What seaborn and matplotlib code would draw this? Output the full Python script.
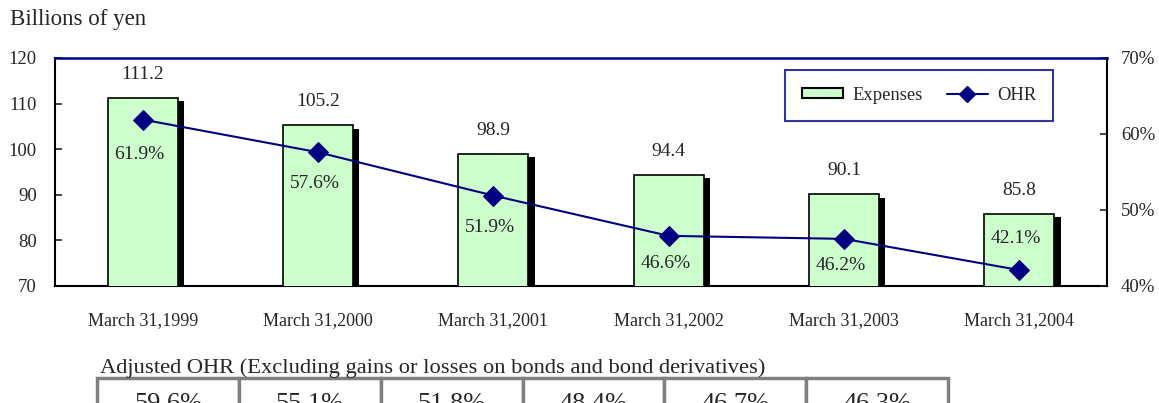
import matplotlib
matplotlib.use("Agg")
import matplotlib.pyplot as plt
import matplotlib.transforms as mtransforms
import numpy as np
import pandas as pd
import seaborn as sns
from matplotlib.lines import Line2D
from matplotlib.patches import Patch
from matplotlib.ticker import FixedLocator, FuncFormatter

# data
dates = ["March 31,1999", "March 31,2000", "March 31,2001",
         "March 31,2002", "March 31,2003", "March 31,2004"]
expenses = [111.2, 105.2, 98.9, 94.4, 90.1, 85.8]
ohr = [61.9, 57.6, 51.9, 46.6, 46.2, 42.1]
adjusted_ohr = [59.6, 55.1, 51.8, 48.4, 46.7, 46.3]

# label offsets (points) for the OHR labels, positive = up
ohr_label_dy = [-25, -22.5, -23, -20, -19, 23]

GREEN = "#CCFFCC"
NAVY = "#000080"

sns.set_style("white")
plt.rcParams["font.family"] = ["Liberation Serif", "DejaVu Serif"]

df = pd.DataFrame({"date": dates, "expenses": expenses, "ohr": ohr})

fig = plt.figure(figsize=(11.59, 4.03), dpi=100)
ax = fig.add_axes([55 / 1159, 1 - 286 / 403, (1107 - 55) / 1159, (286 - 58) / 403])

# drop shadow: the same bars in black, shifted right and down
sns.barplot(data=df, x="date", y="expenses", color="black", saturation=1,
            linewidth=0, width=0.4, ax=ax, zorder=2)
shift = mtransforms.ScaledTranslation(4.5 / 72, -2.3 / 72, fig.dpi_scale_trans)
for bar in list(ax.patches):
    bar.set_transform(ax.transData + shift)

sns.barplot(data=df, x="date", y="expenses", color=GREEN, saturation=1,
            edgecolor="black", linewidth=1.2, width=0.4, ax=ax, zorder=3)

ax.set_ylim(70, 120)
ax.set_xlim(-0.5, len(dates) - 0.5)
ax.set_yticks(np.arange(70, 121, 10))
ax.set_xlabel("")
ax.set_ylabel("")
ax.tick_params(axis="y", direction="in", length=5, width=1.2, pad=13, labelsize=13.5)
ax.tick_params(axis="x", which="major", length=0, pad=19, labelsize=13)
ax.xaxis.set_minor_locator(FixedLocator(np.arange(0.5, len(dates) - 1, 1)))
ax.tick_params(axis="x", which="minor", direction="out", length=6, width=1.2)

for i, v in enumerate(expenses):
    ax.annotate(f"{v:.1f}", (i, v), xytext=(0, 17), textcoords="offset points",
                ha="center", va="center", fontsize=14)

ax2 = ax.twinx()
sns.lineplot(x=np.arange(len(dates)), y=ohr, ax=ax2, color=NAVY, marker="D",
             markersize=10, markeredgecolor=NAVY, linewidth=1.5, zorder=5)
ax2.set_ylim(40, 70)
ax2.set_xlim(-0.5, len(dates) - 0.5)
ax2.set_yticks(np.arange(40, 71, 10))
ax2.yaxis.set_major_formatter(FuncFormatter(lambda v, p: f"{v:.0f}%"))
ax2.tick_params(axis="y", direction="in", length=5, width=1.2, pad=10, labelsize=13.5)

for i, (v, dy) in enumerate(zip(ohr, ohr_label_dy)):
    ax2.annotate(f"{v:.1f}%", (i, v), xytext=(-2.5, dy), textcoords="offset points",
                 ha="center", va="center", fontsize=14)

for a in (ax, ax2):
    for s in a.spines.values():
        s.set_visible(False)
ax.spines["left"].set_visible(True)
ax.spines["bottom"].set_visible(True)
ax2.spines["right"].set_visible(True)
ax2.spines["top"].set_visible(True)
ax.spines["left"].set_color("black")
ax.spines["bottom"].set_color("black")
ax2.spines["right"].set_color("black")
ax2.spines["top"].set_color(NAVY)
for s in ("left", "bottom"):
    ax.spines[s].set_linewidth(1.5)
ax2.spines["right"].set_linewidth(1.5)
ax2.spines["top"].set_linewidth(1.8)

handles = [
    Patch(facecolor=GREEN, edgecolor="black", linewidth=1.5, label="Expenses"),
    Line2D([0], [0], color=NAVY, marker="D", markersize=8.5, linewidth=1.5, label="OHR"),
]
leg = ax2.legend(handles=handles, ncol=2, loc="upper right",
                 bbox_to_anchor=((1053 - 55) / 1052, (286 - 70) / 228),
                 borderaxespad=0, fontsize=13.4, frameon=True, fancybox=False,
                 handlelength=2.2, handleheight=0.5, handletextpad=0.5,
                 columnspacing=1.3, borderpad=0.9)
leg.get_frame().set_edgecolor(NAVY)
leg.get_frame().set_linewidth(1.5)

fig.text(10 / 1159, 1 - 20 / 403, "Billions of yen", va="center", fontsize=16.5)
fig.text(100 / 1159, 1 - 368 / 403,
         "Adjusted OHR (Excluding gains or losses on bonds and bond derivatives)",
         va="center", fontsize=16.2)

tab_ax = fig.add_axes([97 / 1159, 1 - 431 / 403, (948 - 97) / 1159, 53 / 403])
tab_ax.axis("off")
tbl = tab_ax.table(cellText=[[f"{v:.1f}%" for v in adjusted_ohr]],
                   cellLoc="center", bbox=[0, 0, 1, 1])
tbl.auto_set_font_size(False)
for cell in tbl.get_celld().values():
    cell.set_edgecolor("#808080")
    cell.set_linewidth(2.5)
    cell.get_text().set_fontsize(19)

fig.savefig("out.png", dpi=100)
